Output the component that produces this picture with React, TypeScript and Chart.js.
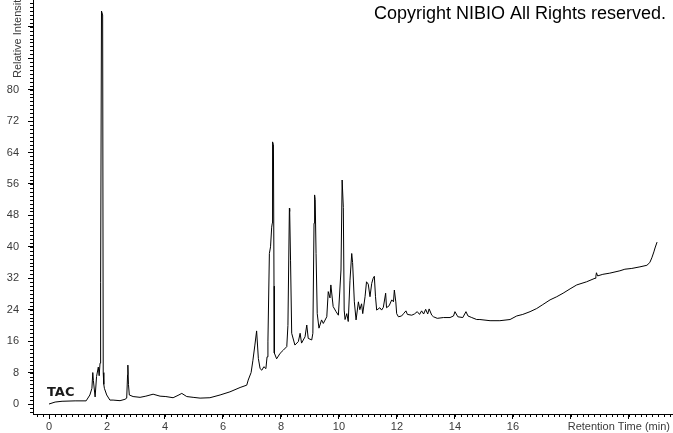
import React, { useEffect, useRef } from "react";
import { Chart, registerables } from "chart.js";

Chart.register(...registerables);

// Retention time (min) of each sampled point of the TAC trace
const retentionTimes: number[] = [
  0, 0.21, 0.45, 0.9, 1.28, 1.41, 1.48, 1.51, 1.53, 1.59, 1.64, 1.7, 1.73, 1.76, 1.77, 1.79, 1.81, 1.85, 1.87, 1.89,
  1.91, 1.99, 2.1, 2.21, 2.45, 2.62, 2.68, 2.71, 2.72, 2.74, 2.77, 2.9, 3.14, 3.34, 3.59, 3.83, 4.03, 4.28, 4.45, 4.58,
  4.75, 4.97, 5.21, 5.55, 5.9, 6.24, 6.59, 6.82, 6.87, 6.97, 7.03, 7.1, 7.16, 7.22, 7.28, 7.34, 7.41, 7.48, 7.52, 7.55,
  7.6, 7.64, 7.68, 7.7, 7.71, 7.74, 7.76, 7.77, 7.85, 7.97, 8.08, 8.2, 8.24, 8.29, 8.3, 8.33, 8.37, 8.48, 8.6, 8.66,
  8.71, 8.83, 8.89, 8.94, 9.06, 9.1, 9.14, 9.16, 9.18, 9.21, 9.25, 9.31, 9.4, 9.46, 9.58, 9.63, 9.69, 9.72, 9.8, 9.9,
  9.98, 10.07, 10.11, 10.15, 10.18, 10.21, 10.27, 10.32, 10.38, 10.44, 10.47, 10.53, 10.59, 10.67, 10.72, 10.78, 10.82, 10.9, 10.95, 11.01,
  11.07, 11.13, 11.18, 11.22, 11.26, 11.3, 11.41, 11.47, 11.53, 11.61, 11.64, 11.73, 11.82, 11.88, 11.91, 11.96, 11.99, 12.05, 12.16, 12.24,
  12.31, 12.36, 12.51, 12.6, 12.7, 12.78, 12.85, 12.92, 12.99, 13.06, 13.11, 13.2, 13.26, 13.39, 13.6, 13.83, 13.95, 14.0, 14.1, 14.27,
  14.38, 14.45, 14.58, 14.75, 14.86, 15.21, 15.55, 15.9, 16.13, 16.34, 16.59, 16.82, 17.03, 17.28, 17.51, 17.73, 17.97, 18.2, 18.54, 18.83,
  18.86, 18.88, 18.92, 19.1, 19.34, 19.69, 19.86, 20.1, 20.38, 20.62, 20.72, 20.79, 20.86, 20.9, 20.97,
];

// Relative intensity (%) at each retention time
const intensities: number[] = [
  0, 0.5, 0.7, 0.8, 0.8, 2.3, 4.0, 8.0, 6.0, 1.8, 7.0, 9.4, 7.2, 10.4, 30.8, 31, 100, 99, 8, 5,
  4.0, 2.3, 1.0, 1.0, 0.85, 1.2, 1.5, 7.5, 9.9, 5, 2.3, 1.9, 1.7, 2.0, 2.5, 2.0, 1.9, 1.6, 2.2, 2.7,
  1.9, 1.7, 1.5, 1.6, 2.3, 3.1, 4.2, 4.8, 6.1, 8, 11, 15, 18.6, 11.6, 9, 8.6, 9.5, 9, 12, 16,
  38.3, 40, 45, 46, 66.7, 66, 30, 13, 11.5, 12.9, 13.7, 14.6, 20, 49.8, 49, 36.6, 18, 15, 15.9, 18,
  15.5, 17.1, 20.1, 16.7, 16.3, 18, 46, 53.2, 52, 38.3, 23, 19.3, 21.4, 20.5, 22.2, 28.6, 27, 30.3, 24.8, 23.5,
  22.6, 34.1, 57, 50, 23.9, 21.5, 23, 21, 31.5, 38.3, 36, 26, 21.4, 26, 24, 25.5, 23, 27.3, 31.1, 30.5,
  27.3, 30.7, 32, 32.5, 27.3, 23.9, 24.5, 23.9, 24.6, 28.2, 24.5, 25, 26.5, 26, 29, 26, 23, 22.2, 22.4, 23.1,
  23.7, 22.8, 22.6, 22.9, 23.5, 22.8, 23.7, 22.9, 24.1, 22.9, 24.2, 22.6, 22.2, 21.8, 22.0, 22.0, 22.4, 23.5, 22.2, 22.0,
  23.5, 22.4, 22.0, 21.5, 21.5, 21.2, 21.2, 21.5, 22.4, 22.8, 23.5, 24.3, 25.3, 26.5, 27.3, 28.2, 29.3, 30.3, 31.1, 32,
  32.5, 33.4, 32.6, 33, 33.3, 33.9, 34.3, 34.5, 34.9, 35.3, 36, 37.2, 38.7, 39.7, 41.2,
];

const xMajorTicks: number[] = [0, 2, 4, 6, 8, 10, 12, 14, 16, 18, 20];
const xTickLabels: string[] = ["0", "2", "4", "6", "8", "10", "12", "14", "16", "", ""];
const yMajorTicks: number[] = [0, 8, 16, 24, 32, 40, 48, 56, 64, 72, 80, 88, 96];
const yTickLabels: string[] = ["0", "8", "16", "24", "32", "40", "48", "56", "64", "72", "80", "", ""];

const xRange = { min: -0.552, max: 21.52 };
const yRange = { min: -2.54, max: 102.8 };

const traceLabel = "TAC";
const copyrightText = "Copyright NIBIO All Rights reserved.";
const xAxisTitle = "Retention Time (min)";
const yAxisTitle = "Relative Intensity";

const LABEL_FONT = "Liberation Sans, Arial, sans-serif";
const LABEL_COLOR = "#3a3a3a";

const decorPlugin = {
  id: "decor",
  afterDraw(chart: any) {
    const ctx = chart.ctx as CanvasRenderingContext2D;
    const xs = chart.scales.x;
    const ys = chart.scales.y;
    const area = chart.chartArea;
    ctx.save();
    ctx.strokeStyle = "#000";
    ctx.lineWidth = 1;
    ctx.beginPath();
    // minor x ticks every 0.2 min
    for (let i = -2; i <= 107; i++) {
      const v = i * 0.2;
      if (v < xRange.min || v > xRange.max) continue;
      const px = Math.round(xs.getPixelForValue(v)) + 0.5;
      ctx.moveTo(px, area.bottom);
      ctx.lineTo(px, area.bottom + 3);
    }
    // minor y ticks every 1 unit
    for (let v = -2; v <= 102; v++) {
      const py = Math.round(ys.getPixelForValue(v)) + 0.5;
      ctx.moveTo(area.left, py);
      ctx.lineTo(area.left - 3, py);
    }
    ctx.stroke();

    // copyright
    ctx.fillStyle = "#000";
    ctx.font = `18px ${LABEL_FONT}`;
    ctx.textAlign = "right";
    ctx.textBaseline = "middle";
    ctx.fillText(copyrightText, 666, 14);

    // trace label
    ctx.fillStyle = "#1a1a1a";
    ctx.font = `bold 13px "DejaVu Sans", Verdana, sans-serif`;
    ctx.textAlign = "left";
    ctx.textBaseline = "alphabetic";
    ctx.fillText(traceLabel, 47, 396);

    // x axis title
    ctx.fillStyle = LABEL_COLOR;
    ctx.font = `11px ${LABEL_FONT}`;
    ctx.textAlign = "right";
    ctx.textBaseline = "middle";
    ctx.fillText(xAxisTitle, 670, 427);

    // y axis title (rotated)
    ctx.translate(18, 78);
    ctx.rotate(-Math.PI / 2);
    ctx.textAlign = "left";
    ctx.textBaseline = "middle";
    ctx.fillText(yAxisTitle, 0, 0);
    ctx.restore();
  },
};

const zeroPadding = (scale: any) => {
  scale.paddingTop = 0;
  scale.paddingBottom = 0;
  scale.paddingLeft = 0;
  scale.paddingRight = 0;
};

export default function App() {
  const canvasRef = useRef<HTMLCanvasElement | null>(null);

  useEffect(() => {
    document.body.style.margin = "0";
    const canvas = canvasRef.current;
    if (!canvas) return;
    const points = retentionTimes.map((t, i) => ({ x: t, y: intensities[i] }));
    const chart = new Chart(canvas, {
      type: "line",
      data: {
        datasets: [
          {
            label: traceLabel,
            data: points,
            borderColor: "#000",
            borderWidth: 1,
            pointRadius: 0,
            tension: 0,
            fill: false,
          },
        ],
      },
      options: {
        responsive: false,
        animation: false,
        layout: { padding: 0 },
        plugins: { legend: { display: false }, tooltip: { enabled: false }, title: { display: false } },
        scales: {
          x: {
            type: "linear",
            position: "bottom",
            min: xRange.min,
            max: xRange.max,
            afterBuildTicks: (scale: any) => {
              scale.ticks = xMajorTicks.map((v) => ({ value: v }));
            },
            afterFit: (scale: any) => {
              scale.height = 19;
              zeroPadding(scale);
            },
            ticks: {
              autoSkip: false,
              maxRotation: 0,
              padding: 1,
              color: LABEL_COLOR,
              font: { family: LABEL_FONT, size: 11 },
              callback: (value: any) => {
                const idx = xMajorTicks.indexOf(Number(value));
                return idx >= 0 ? xTickLabels[idx] : "";
              },
            },
            grid: { display: true, drawOnChartArea: false, drawTicks: true, tickLength: 5, tickColor: "#000", tickWidth: 1 },
            border: { display: true, color: "#000", width: 1 },
          },
          y: {
            type: "linear",
            position: "left",
            min: yRange.min,
            max: yRange.max,
            afterBuildTicks: (scale: any) => {
              scale.ticks = yMajorTicks.map((v) => ({ value: v }));
            },
            afterFit: (scale: any) => {
              scale.width = 33;
              zeroPadding(scale);
            },
            ticks: {
              autoSkip: false,
              padding: 9,
              color: LABEL_COLOR,
              font: { family: LABEL_FONT, size: 11 },
              callback: (value: any) => {
                const idx = yMajorTicks.indexOf(Number(value));
                return idx >= 0 ? yTickLabels[idx] : "";
              },
            },
            grid: { display: true, drawOnChartArea: false, drawTicks: true, tickLength: 5, tickColor: "#000", tickWidth: 1 },
            border: { display: true, color: "#000", width: 1 },
          },
        },
      },
      plugins: [decorPlugin],
    });
    return () => chart.destroy();
  }, []);

  return (
    <div style={{ position: "absolute", left: 0, top: 0, width: 673, height: 433, background: "#fff" }}>
      <canvas ref={canvasRef} width={673} height={433} style={{ display: "block" }} />
    </div>
  );
}
